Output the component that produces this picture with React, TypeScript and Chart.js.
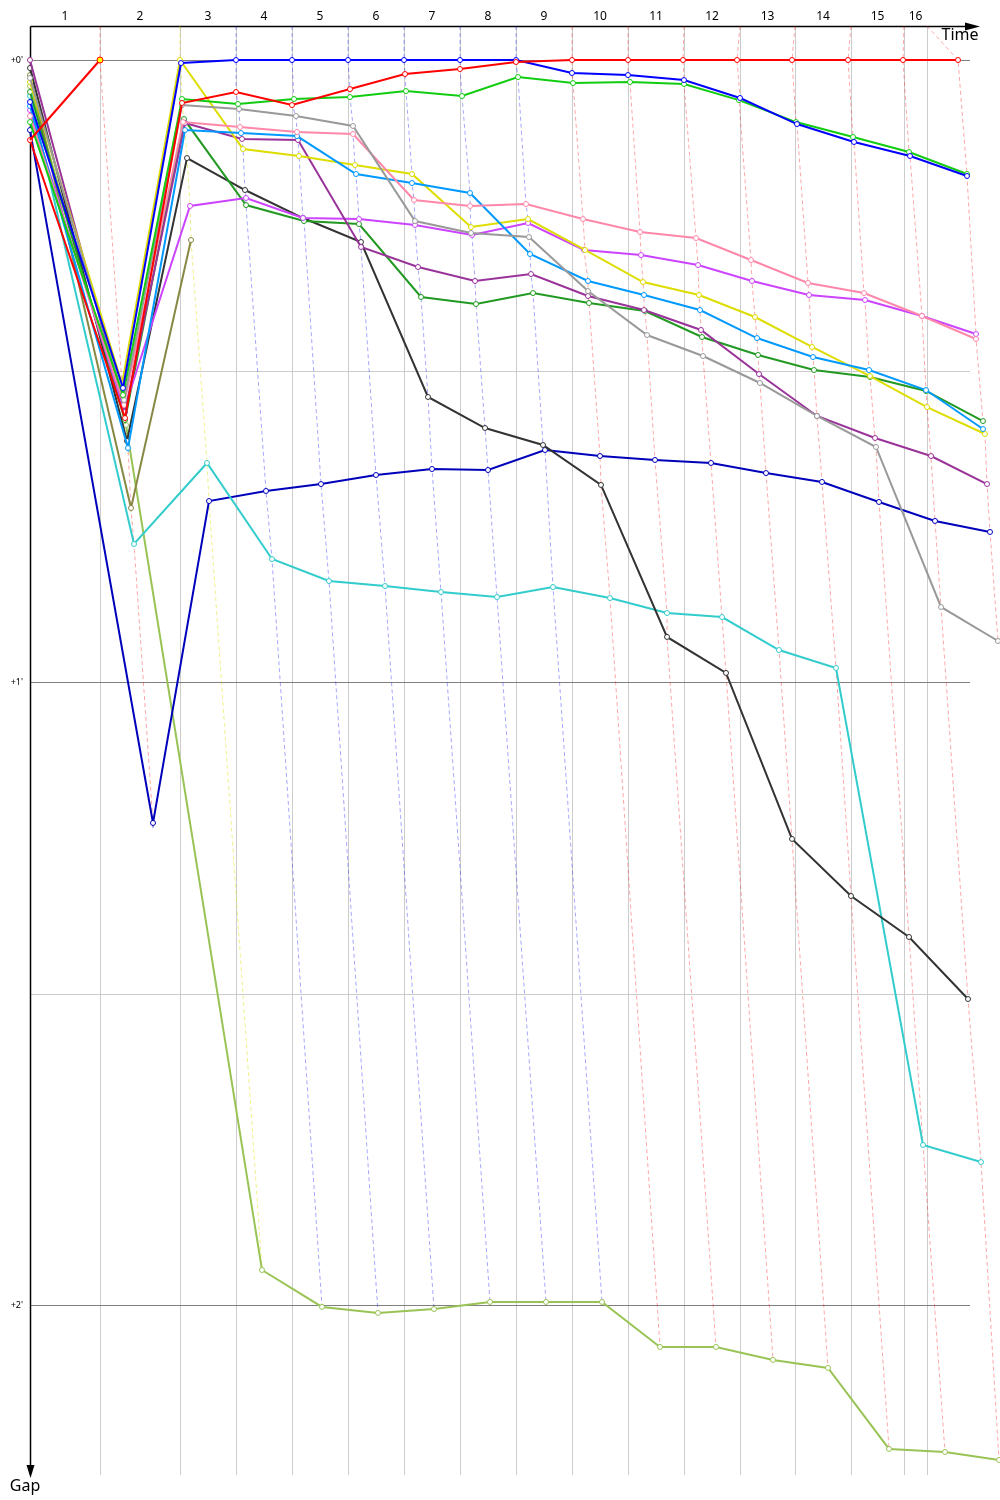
import React, { useEffect, useRef } from 'react';
import { Chart, registerables } from 'chart.js';
Chart.register(...registerables);

// ---- Data (x: elapsed race time units, y: gap to leader in seconds) ----
const lapLabels = ['1', '2', '3', '4', '5', '6', '7', '8', '9', '10', '11', '12', '13', '14', '15', '16'];
// reference time of each lap line (vertical grid lines)
const lapRefTimes = [70, 150, 206, 262, 318, 374, 430, 486, 542, 598, 654, 710, 765, 821, 874, 897];
const gapTicks = [0, 60, 120];
const gapTickLabels = ["+0'", "+1'", "+2'"];
const gapMinorTicks = [30, 90];

// Lap 1 reference leader
const lap1RefTimes = [0, 70];
const lap1RefGaps = [7.71, 0];

const redTimes = [0, 95, 152, 206, 262, 320, 375, 430, 486, 542, 598, 653, 707, 762, 818, 873, 928];
const redGaps = [7.71, 34.51, 4.14, 3.08, 4.34, 2.8, 1.35, 0.87, 0.19, 0, 0, 0, 0, 0, 0, 0, 0];

const blueTimes = [0, 93, 151, 206, 262, 318, 374, 430, 486, 542, 598, 654, 710, 767, 824, 880, 937];
const blueGaps = [4.05, 31.61, 0.29, 0, 0, 0, 0, 0, 0, 1.25, 1.45, 1.93, 3.66, 6.17, 7.9, 9.25, 11.18];

const greenTimes = [0, 93, 152, 208, 264, 320, 376, 432, 488, 543, 600, 654, 709, 766, 823, 879, 937];
const greenGaps = [5.98, 32.29, 3.76, 4.24, 3.76, 3.57, 2.99, 3.47, 1.64, 2.22, 2.12, 2.31, 3.86, 5.98, 7.42, 8.87, 10.99];

const grayTimes = [0, 94, 152, 209, 266, 323, 385, 441, 499, 558, 617, 673, 730, 787, 846, 911, 968];
const grayGaps = [1.73, 32.77, 4.34, 4.72, 5.4, 6.36, 15.52, 16.67, 17.06, 22.27, 26.51, 28.53, 31.13, 34.31, 37.3, 52.72, 56.0];

const pinkTimes = [0, 94, 153, 210, 267, 323, 384, 440, 496, 553, 610, 666, 721, 778, 834, 892, 946];
const pinkGaps = [5.4, 33.25, 5.98, 6.46, 6.94, 7.13, 13.49, 14.07, 13.88, 15.33, 16.58, 17.16, 19.28, 21.49, 22.46, 24.67, 26.89];

const skyTimes = [0, 98, 155, 211, 267, 326, 382, 440, 500, 558, 614, 670, 727, 783, 839, 896, 953];
const skyGaps = [4.43, 37.4, 6.75, 7.04, 7.33, 10.99, 11.86, 12.82, 18.7, 21.3, 22.65, 24.1, 26.8, 28.63, 29.88, 31.81, 35.57];

const yellowTimes = [0, 92, 150, 213, 269, 325, 382, 441, 498, 555, 613, 669, 725, 782, 840, 897, 955];
const yellowGaps = [2.12, 31.23, 0, 8.58, 9.25, 10.12, 10.99, 16.1, 15.33, 18.31, 21.4, 22.65, 24.77, 27.66, 30.46, 33.45, 36.05];

const purpleTimes = [0, 95, 155, 212, 268, 331, 388, 445, 501, 558, 614, 671, 729, 787, 845, 901, 957];
const purpleGaps = [0, 33.93, 6.07, 7.61, 7.71, 18.02, 19.95, 21.3, 20.63, 22.75, 24.1, 26.02, 30.27, 34.31, 36.43, 38.17, 40.87];

const violetTimes = [0, 94, 160, 216, 273, 329, 385, 442, 498, 554, 611, 668, 722, 779, 835, 892, 946];
const violetGaps = [4.82, 33.73, 14.07, 13.3, 15.23, 15.33, 15.9, 16.87, 15.71, 18.31, 18.8, 19.76, 21.3, 22.65, 23.13, 24.67, 26.41];

const darkGreenTimes = [0, 95, 154, 216, 274, 329, 391, 446, 503, 559, 615, 672, 728, 784, 840, 896, 953];
const darkGreenGaps = [3.08, 34.7, 5.69, 13.98, 15.52, 15.81, 22.84, 23.52, 22.46, 23.42, 24.19, 26.7, 28.43, 29.88, 30.55, 31.9, 34.8];

const blackTimes = [0, 97, 157, 215, 273, 331, 398, 455, 513, 571, 637, 696, 762, 821, 879, 938];
const blackGaps = [0.77, 36.72, 9.45, 12.53, 15.23, 17.54, 32.48, 35.47, 37.11, 40.96, 55.61, 59.08, 75.08, 80.58, 84.53, 90.51];

const oliveTimes = [0, 101, 161];
const oliveGaps = [1.45, 43.18, 17.35];

const cyanTimes = [0, 104, 177, 242, 299, 355, 411, 467, 523, 580, 637, 692, 749, 806, 893, 951];
const cyanGaps = [3.47, 46.65, 38.84, 48.1, 50.22, 50.7, 51.28, 51.76, 50.8, 51.86, 53.3, 53.69, 56.87, 58.6, 104.58, 106.22];

const navyTimes = [0, 123, 179, 236, 291, 346, 402, 458, 515, 570, 625, 681, 736, 792, 849, 905, 960];
const navyGaps = [6.75, 73.54, 42.51, 41.54, 40.87, 40.0, 39.42, 39.52, 37.59, 38.17, 38.55, 38.84, 39.81, 40.67, 42.6, 44.43, 45.49];

const limeTimes = [0, 96, 232, 292, 348, 404, 460, 516, 572, 630, 686, 743, 798, 859, 915, 969];
const limeGaps = [2.51, 35.18, 116.63, 120.19, 120.77, 120.39, 119.71, 119.71, 119.71, 124.05, 124.05, 125.3, 126.07, 133.88, 134.17, 134.94];

const seriesList = [
  { name: 'Red', color: '#ff0000', times: redTimes, gaps: redGaps },
  { name: 'Blue', color: '#0000ff', times: blueTimes, gaps: blueGaps },
  { name: 'Green', color: '#11cc11', times: greenTimes, gaps: greenGaps },
  { name: 'Gray', color: '#999999', times: grayTimes, gaps: grayGaps },
  { name: 'Pink', color: '#ff88aa', times: pinkTimes, gaps: pinkGaps },
  { name: 'Sky', color: '#0099ff', times: skyTimes, gaps: skyGaps },
  { name: 'Yellow', color: '#dddd00', times: yellowTimes, gaps: yellowGaps },
  { name: 'Purple', color: '#993399', times: purpleTimes, gaps: purpleGaps },
  { name: 'Violet', color: '#cc44ff', times: violetTimes, gaps: violetGaps },
  { name: 'DarkGreen', color: '#229922', times: darkGreenTimes, gaps: darkGreenGaps },
  { name: 'Black', color: '#333333', times: blackTimes, gaps: blackGaps },
  { name: 'Olive', color: '#888844', times: oliveTimes, gaps: oliveGaps },
  { name: 'Cyan', color: '#33cccc', times: cyanTimes, gaps: cyanGaps },
  { name: 'Navy', color: '#0000bb', times: navyTimes, gaps: navyGaps },
  { name: 'Lime', color: '#99c455', times: limeTimes, gaps: limeGaps },
];

const X_MIN = 0;
const X_MAX = 970;
const Y_MIN = -3.28;
const Y_MAX = 136.39;
const GRID_END_TIME = 940;

function rgba(hex: string, a: number) {
  const n = parseInt(hex.slice(1), 16);
  return `rgba(${(n >> 16) & 255},${(n >> 8) & 255},${n & 255},${a})`;
}

function buildLapLines() {
  const lines: any[] = [];
  for (let k = 1; k <= lapRefTimes.length; k++) {
    const pts: { x: number; y: number; c: string }[] = [];
    if (k === 1) pts.push({ x: lap1RefTimes[1], y: lap1RefGaps[1], c: '#ff0000' });
    for (const s of seriesList) {
      if (s.times.length > k) pts.push({ x: s.times[k], y: s.gaps[k], c: s.color });
    }
    pts.sort((a, b) => a.y - b.y);
    const leaderColor = pts[0].c;
    lines.push({
      type: 'line',
      label: 'lap' + k,
      data: [{ x: lapRefTimes[k - 1], y: Y_MIN }, ...pts.map((p) => ({ x: p.x, y: p.y }))],
      borderColor: rgba(leaderColor, leaderColor === '#dddd00' ? 0.45 : 0.35),
      borderWidth: 1,
      borderDash: [4, 3],
      pointRadius: 0,
      fill: false,
      tension: 0,
      clip: false,
      order: 10,
    });
  }
  return lines;
}

const decoPlugin = {
  id: 'deco',
  beforeDatasetsDraw(chart: any) {
    const { ctx, chartArea, scales } = chart;
    const x = scales.x;
    const y = scales.y;
    ctx.save();
    // vertical lap grid lines
    ctx.strokeStyle = '#cccccc';
    ctx.lineWidth = 1;
    for (const t of lapRefTimes) {
      const px = Math.round(x.getPixelForValue(t)) + 0.5;
      ctx.beginPath();
      ctx.moveTo(px, chartArea.top);
      ctx.lineTo(px, chartArea.bottom);
      ctx.stroke();
    }
    // horizontal grid
    const x0 = x.getPixelForValue(X_MIN);
    const x1 = x.getPixelForValue(GRID_END_TIME);
    for (const g of gapMinorTicks) {
      const py = Math.round(y.getPixelForValue(g)) + 0.5;
      ctx.strokeStyle = '#cccccc';
      ctx.beginPath();
      ctx.moveTo(x0, py);
      ctx.lineTo(x1, py);
      ctx.stroke();
    }
    for (const g of gapTicks) {
      const py = Math.round(y.getPixelForValue(g)) + 0.5;
      ctx.strokeStyle = '#808080';
      ctx.beginPath();
      ctx.moveTo(x0, py);
      ctx.lineTo(x1, py);
      ctx.stroke();
    }
    // axes
    const ax = Math.round(x0) + 0.5;
    const ay = Math.round(chartArea.top) + 0.5;
    ctx.strokeStyle = '#000000';
    ctx.lineWidth = 1.5;
    ctx.beginPath();
    ctx.moveTo(ax, ay);
    ctx.lineTo(972, ay);
    ctx.stroke();
    ctx.beginPath();
    ctx.moveTo(ax, ay);
    ctx.lineTo(ax, chartArea.bottom - 8);
    ctx.stroke();
    ctx.fillStyle = '#000000';
    ctx.beginPath();
    ctx.moveTo(965, ay - 4);
    ctx.lineTo(980, ay);
    ctx.lineTo(965, ay + 4);
    ctx.closePath();
    ctx.fill();
    ctx.beginPath();
    ctx.moveTo(ax - 4, chartArea.bottom - 10);
    ctx.lineTo(ax, chartArea.bottom + 3);
    ctx.lineTo(ax + 4, chartArea.bottom - 10);
    ctx.closePath();
    ctx.fill();

    // lap labels
    ctx.fillStyle = '#000000';
    ctx.font = '12px "Noto Sans", "DejaVu Sans", sans-serif';
    ctx.textAlign = 'center';
    ctx.textBaseline = 'middle';
    for (let i = 0; i < lapLabels.length; i++) {
      const a = i === 0 ? X_MIN : lapRefTimes[i - 1];
      const b = lapRefTimes[i];
      const px = (x.getPixelForValue(a) + x.getPixelForValue(b)) / 2;
      ctx.fillText(lapLabels[i], px, 17);
    }
    // gap tick labels
    ctx.font = '9px "Noto Sans", "DejaVu Sans", sans-serif';
    ctx.textAlign = 'right';
    for (let i = 0; i < gapTicks.length; i++) {
      ctx.fillText(gapTickLabels[i], 23, y.getPixelForValue(gapTicks[i]));
    }
    // axis titles
    ctx.font = '16px "Noto Sans", "DejaVu Sans", sans-serif';
    ctx.textAlign = 'center';
    ctx.fillText('Time', 960, 35);
    ctx.fillText('Gap', 25, chartArea.bottom + 11);
    ctx.restore();
  },
};

export default function App() {
  const ref = useRef<HTMLCanvasElement | null>(null);
  useEffect(() => {
    document.body.style.margin = '0';
    const canvas = ref.current;
    if (!canvas) return;
    const seriesDatasets = seriesList.map((s) => ({
      type: 'line',
      label: s.name,
      data: s.times.map((t, i) => ({ x: t, y: s.gaps[i] })),
      borderColor: s.color,
      borderWidth: 2,
      pointRadius: 2.5,
      pointBorderWidth: 1,
      pointBackgroundColor: '#ffffff',
      pointBorderColor: s.color,
      fill: false,
      tension: 0,
      clip: false,
      order: 1,
    }));
    const refDataset = {
      type: 'line',
      label: 'Lap 1 leader',
      data: lap1RefTimes.map((t, i) => ({ x: t, y: lap1RefGaps[i] })),
      borderColor: '#ff0000',
      borderWidth: 2,
      pointRadius: [0, 3],
      pointBorderWidth: 1,
      pointBackgroundColor: '#ffff00',
      pointBorderColor: '#ff0000',
      fill: false,
      tension: 0,
      clip: false,
      order: 0,
    };
    const chart = new Chart(canvas, {
      type: 'line',
      data: { datasets: [...buildLapLines(), ...seriesDatasets, refDataset] as any },
      options: {
        animation: false,
        responsive: false,
        devicePixelRatio: 1,
        layout: { autoPadding: false, padding: { left: 30, top: 26, right: 0, bottom: 25 } },
        scales: {
          x: { type: 'linear', min: X_MIN, max: X_MAX, display: false },
          y: { type: 'linear', min: Y_MIN, max: Y_MAX, reverse: true, display: false },
        },
        plugins: { legend: { display: false }, tooltip: { enabled: false } },
      },
      plugins: [decoPlugin],
    } as any);
    return () => chart.destroy();
  }, []);
  return (
    <div style={{ width: 1000, height: 1500, background: '#ffffff' }}>
      <canvas ref={ref} width={1000} height={1500} style={{ display: 'block', width: 1000, height: 1500 }} />
    </div>
  );
}
